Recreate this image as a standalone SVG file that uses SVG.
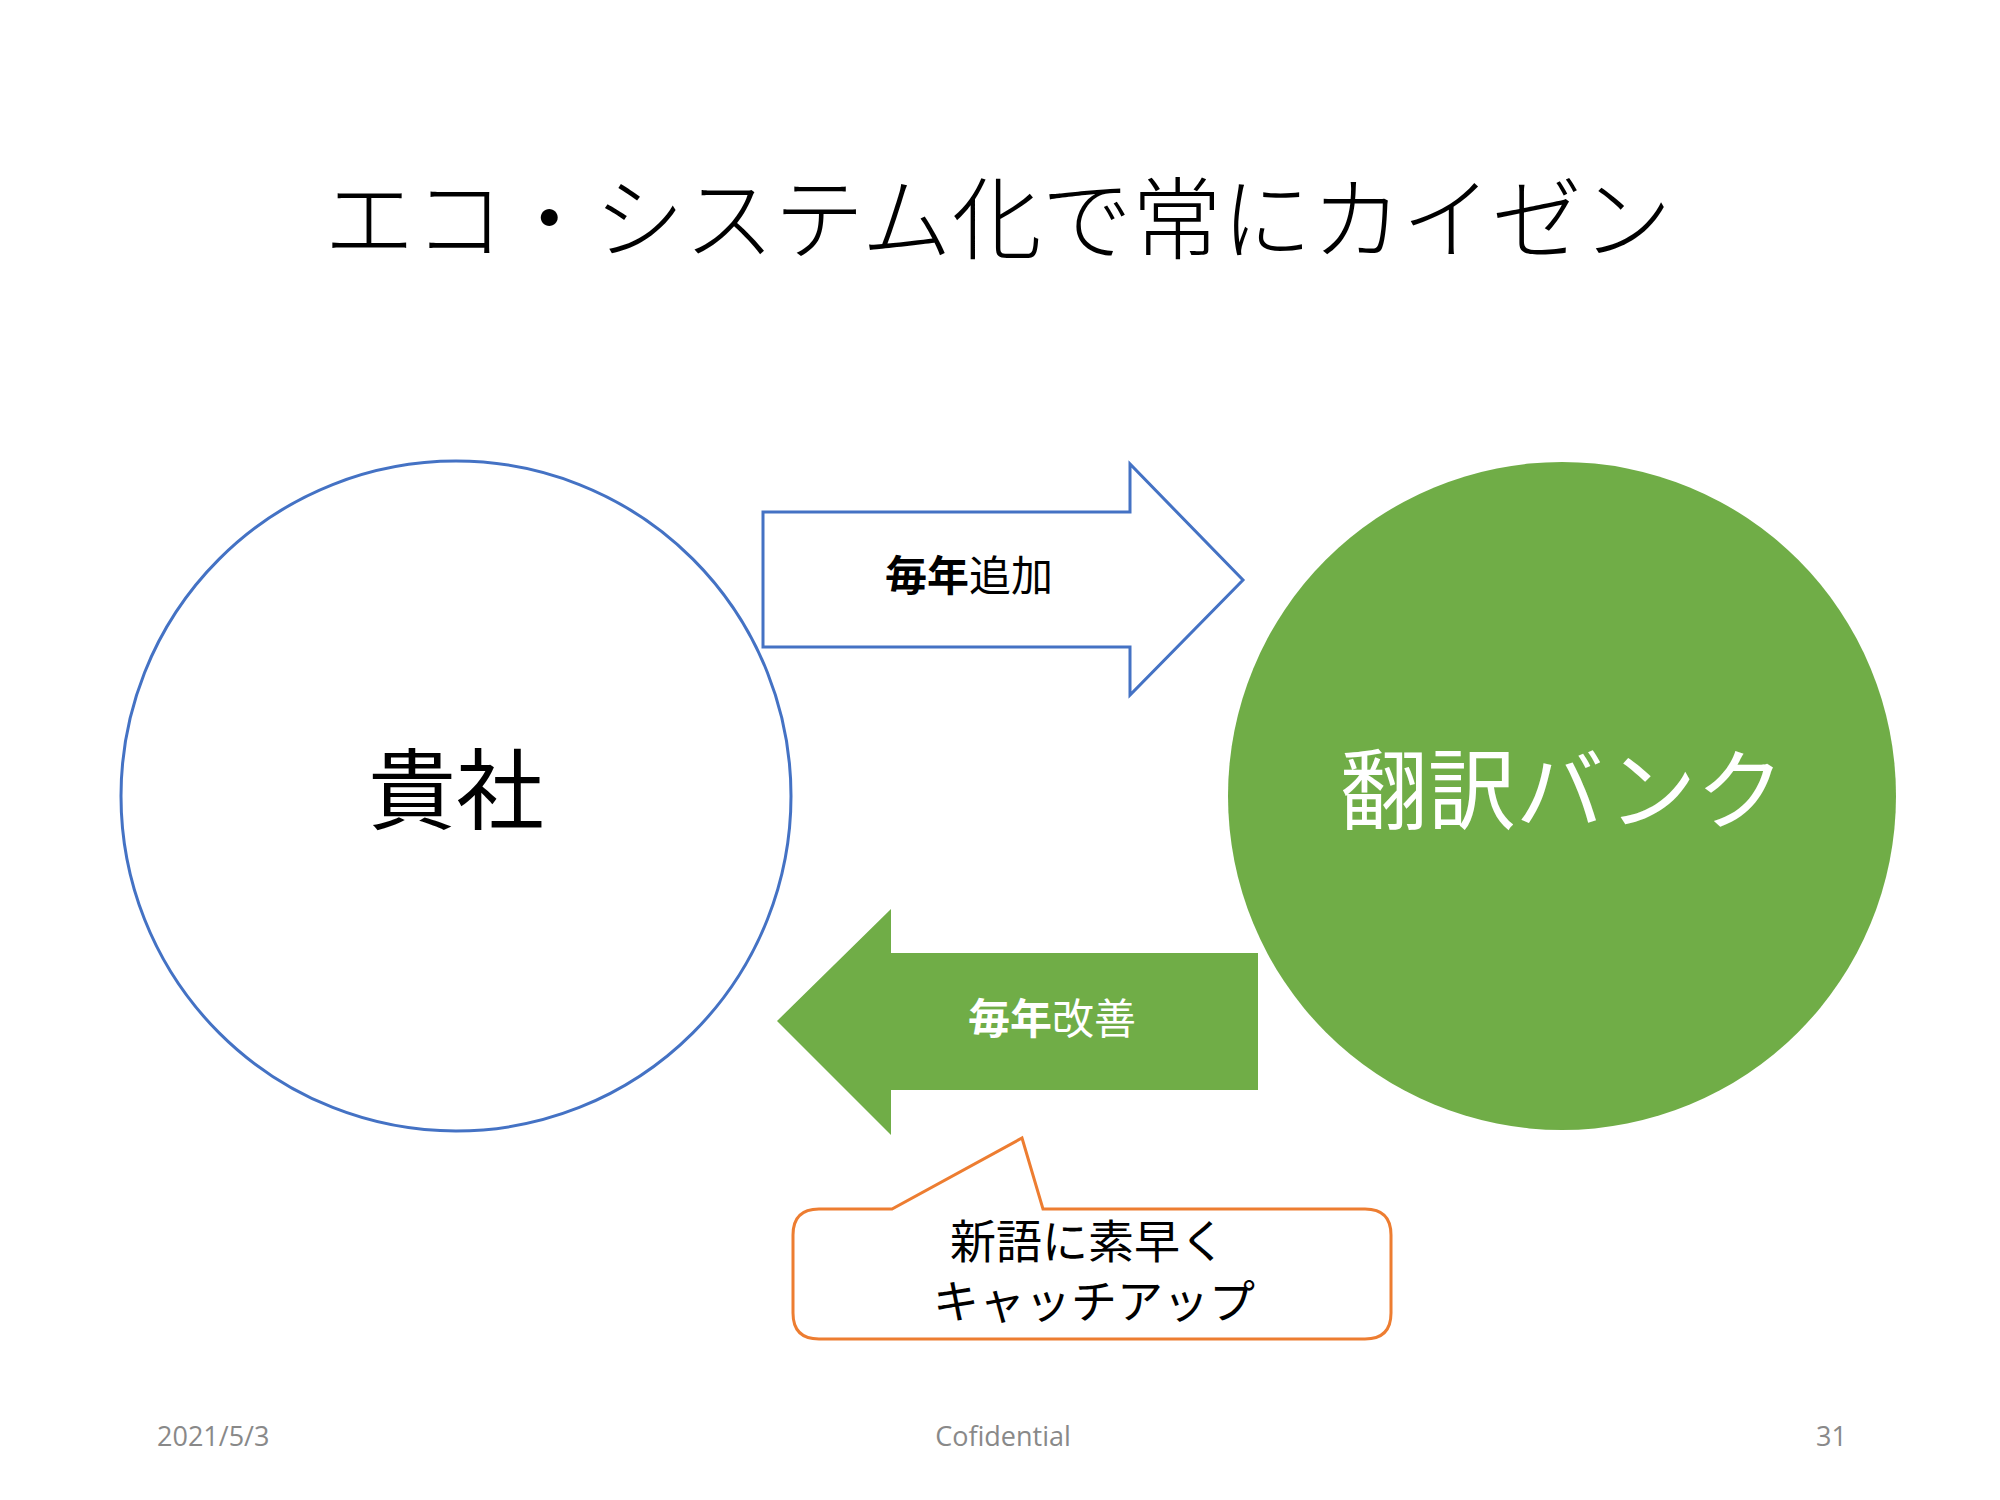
<svg xmlns="http://www.w3.org/2000/svg" width="2000" height="1500" viewBox="0 0 2000 1500">
<style>
.jp{font-family:"Noto Sans CJK JP","Noto Sans",sans-serif}
.ft{font-family:"Open Sans","Noto Sans",sans-serif;font-size:27px;fill:#898989}
</style>
<rect width="2000" height="1500" fill="#fff"/>
<text class="jp" x="998" y="252" font-size="90" font-weight="300" text-anchor="middle" fill="#000">エコ・システム化で常にカイゼン</text>
<g id="kisha">
<circle cx="456" cy="796" r="335" fill="#fff" stroke="#4472C4" stroke-width="3"/>
<text class="jp" x="456" y="822" font-size="88" text-anchor="middle" fill="#000">貴社</text>
</g>
<g id="bank">
<circle cx="1562" cy="796" r="334" fill="#70AD47"/>
<text class="jp" x="1562" y="822" font-size="88" text-anchor="middle" fill="#fff">翻訳バンク</text>
</g>
<g id="connectors">
<g id="arrow-add">
<polygon points="763,512 1130,512 1130,464 1243,580 1130,695 1130,647 763,647" fill="#fff" stroke="#4472C4" stroke-width="3"/>
<text class="jp" x="969" y="591" font-size="42" text-anchor="middle" fill="#000"><tspan font-weight="bold">毎年</tspan>追加</text>
</g>
<g id="arrow-improve">
<polygon points="1258,953 891,953 891,909 777,1021 891,1135 891,1090 1258,1090" fill="#70AD47"/>
<text class="jp" x="1052" y="1034" font-size="42" text-anchor="middle" fill="#fff"><tspan font-weight="bold">毎年</tspan>改善</text>
</g>
</g>
<g id="callout">
<path d="M819,1209 L892,1209 L1022,1138 L1043,1209 L1365,1209 Q1391,1209 1391,1235 L1391,1313 Q1391,1339 1365,1339 L819,1339 Q793,1339 793,1313 L793,1235 Q793,1209 819,1209 Z" fill="#fff" stroke="#ED7D31" stroke-width="3"/>
<text class="jp" x="1088" y="1258" font-size="46" text-anchor="middle" fill="#000">新語に素早く</text>
<text class="jp" x="1094" y="1318" font-size="46" text-anchor="middle" fill="#000">キャッチアップ</text>
</g>
<text class="ft" x="157" y="1446">2021/5/3</text>
<text class="ft" x="1003" y="1446" text-anchor="middle">Cofidential</text>
<text class="ft" x="1847" y="1446" text-anchor="end">31</text>
</svg>
